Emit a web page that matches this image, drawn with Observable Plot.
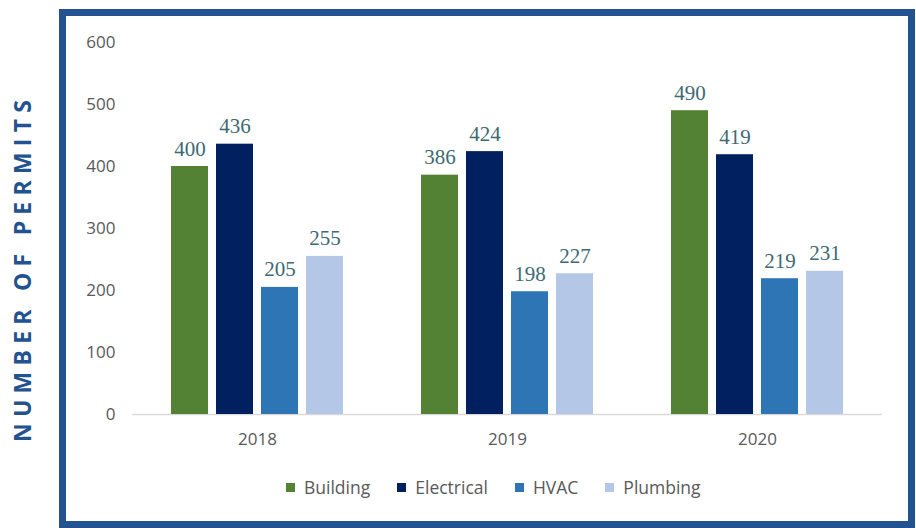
<!DOCTYPE html>
<html>
<head>
<meta charset="utf-8">
<script src="https://cdn.jsdelivr.net/npm/d3@7"></script>
<script src="https://cdn.jsdelivr.net/npm/@observablehq/plot@0.6"></script>
<style>
  html, body { margin: 0; padding: 0; background: #fff; }
  #wrap { position: relative; width: 916px; height: 528px; overflow: hidden; }
  #frame { position: absolute; left: 59px; top: 9px; width: 856px; height: 519px; border: 7px solid #22528f; box-sizing: border-box; }
  #chart { position: absolute; left: 0; top: 0; }
  #legend { position: absolute; left: 286px; top: 475px; display: flex; align-items: center; font-family: "Open Sans", sans-serif; font-size: 17.5px; color: #595959; white-space: nowrap; }
  #legend .item { display: flex; align-items: center; }
  #legend .sw { width: 9px; height: 9px; margin-right: 9px; }
  #ytitle { position: absolute; left: 0; top: 0; }
</style>
</head>
<body>
<div id="wrap">
  <div id="frame"></div>
  <div id="chart"></div>
  <div id="legend"></div>
  <svg id="ytitle" width="50" height="528"></svg>
</div>
<script>
const years = ["2018", "2019", "2020"];
const types = ["Building", "Electrical", "HVAC", "Plumbing"];
const building = [400, 386, 490];
const electrical = [436, 424, 419];
const hvac = [205, 198, 219];
const plumbing = [255, 227, 231];
const colors = ["#548235", "#002060", "#2e75b6", "#b4c7e7"];
const yTicks = [0, 100, 200, 300, 400, 500, 600];
const yTitle = "NUMBER OF PERMITS";

const series = [building, electrical, hvac, plumbing];
const data = years.flatMap((yr, i) => types.map((t, j) => ({year: yr, type: t, value: series[j][i]})));

const chart = Plot.plot({
  width: 916,
  height: 460,
  marginLeft: 131,
  marginRight: 33,
  marginTop: 42,
  marginBottom: 46,
  style: {fontFamily: "Open Sans, sans-serif", fontSize: "17px", color: "#595959", background: "transparent", overflow: "visible"},
  fx: {domain: years, padding: 0, axis: "bottom", tickSize: 0, tickPadding: 18, label: null},
  x: {domain: types, paddingInner: 0.18, paddingOuter: 0.86, axis: null},
  y: {domain: [0, 600], ticks: yTicks, tickSize: 0, tickPadding: 17, label: null},
  color: {domain: types, range: colors},
  marks: [
    Plot.ruleY([0], {stroke: "#d9d9d9", strokeWidth: 1.5}),
    Plot.barY(data, {fx: "year", x: "type", y: "value", fill: "type"}),
    Plot.text(data, {fx: "year", x: "type", y: "value", text: d => String(d.value), lineAnchor: "bottom", dy: -11, fontFamily: "Liberation Serif", fontSize: 21, fill: "#3d6a73"})
  ]
});
document.getElementById("chart").appendChild(chart);

const legend = document.getElementById("legend");
types.forEach((t, i) => {
  const item = document.createElement("div");
  item.className = "item";
  item.style.marginRight = i < types.length - 1 ? "27px" : "0";
  const sw = document.createElement("span");
  sw.className = "sw";
  sw.style.background = colors[i];
  const lab = document.createElement("span");
  lab.textContent = t;
  item.appendChild(sw);
  item.appendChild(lab);
  legend.appendChild(item);
});

const ts = d3.select("#ytitle");
ts.append("text")
  .attr("transform", "translate(22,271) rotate(-90)")
  .attr("text-anchor", "middle")
  .attr("dominant-baseline", "central")
  .attr("font-family", "Open Sans, sans-serif")
  .attr("font-weight", "bold")
  .attr("font-size", 23)
  .attr("fill", "#22528f")
  .attr("textLength", 342)
  .attr("lengthAdjust", "spacing")
  .text(yTitle);
</script>
</body>
</html>
